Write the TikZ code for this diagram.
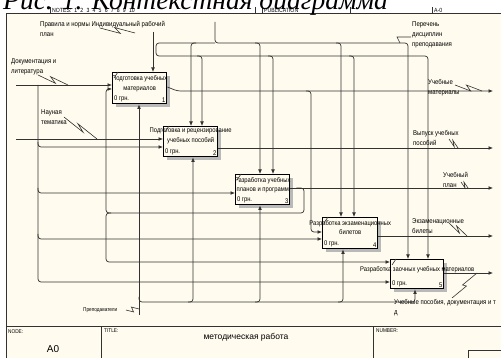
\documentclass[tikz,border=0pt]{standalone}
\usepackage{fontspec}
\setmainfont{Liberation Sans}
\newfontfamily\idf[FakeStretch=0.86]{Liberation Sans}
\newfontfamily\rmttl{Liberation Serif}
\usetikzlibrary{positioning}
\usetikzlibrary{calc,arrows.meta,shadows}

\definecolor{paper}{RGB}{255,251,238}
\definecolor{ink}{RGB}{50,50,50}

\tikzset{
  wire/.style={draw=ink, line width=0.7pt, rounded corners=3pt},
  arr/.style={wire, -{Latex[length=4.5pt,width=3.8pt]}},
  frame/.style={draw=ink, line width=1pt},
  box/.style={draw=black, line width=1.4pt, fill=paper,
              minimum width=54pt, minimum height=30pt, inner sep=0pt,
              anchor=north west,
              drop shadow={shadow xshift=3.5pt, shadow yshift=-3.5pt, opacity=1, fill=gray!55}},
  btxt/.style={font=\idf\fontsize{6.8}{9.5}\selectfont, align=center, inner sep=0pt, anchor=north},
  cost/.style={font=\idf\fontsize{6.8}{9}\selectfont, inner sep=1.8pt, anchor=south west},
  num/.style={font=\idf\fontsize{6.8}{9}\selectfont, inner sep=1.8pt, anchor=south east},
  lbl/.style={font=\idf\fontsize{7}{10}\selectfont, align=left, inner sep=0pt, anchor=north west},
  hdr/.style={font=\idf\fontsize{6}{7}\selectfont, inner sep=0pt, anchor=base west},
  squig/.style={draw=ink, line width=0.6pt},
}
\newcommand\zig[2]{\draw[squig] (#1) -- ($(#1)!0.58!(#2)+(0,2.5)$) -- ($(#1)!0.42!(#2)+(0,-2.5)$) -- (#2);}

\begin{document}
\begin{tikzpicture}[x=1pt,y=-1pt]

        \useasboundingbox (0,0) rectangle (501,358);
        \fill[white] (0,0) rectangle (501,358);
        \fill[paper] (6.5,14) rectangle (501,358);

        % frame
        \draw[frame] (6.5,358) -- (6.5,14) -- (501,14);
        \draw[frame] (6.5,326) -- (501,326);
        \draw[frame] (101,326) -- (101,358);
        \draw[frame] (373,326) -- (373,358);
        \draw[frame] (468,358) |- (501,350);
        \foreach \x in {50,255,262,350,432}
            \draw[frame, line width=0.7pt] (\x,7) -- (\x,14);

        \node[hdr] (notes) at (52,12.5) {NOTES:\hspace{3pt}1\hspace{3.2pt}2\hspace{3.2pt}3\hspace{3.2pt}4\hspace{3.2pt}5\hspace{3.2pt}6\hspace{3.2pt}7\hspace{3.2pt}8\hspace{3.2pt}9\hspace{3.2pt}10};
        \node[hdr] (publ) at (264,12.5) {PUBLICATION};
        \node[hdr] (anum) at (434,12.5) {A-0};
        \node[anchor=base west, inner sep=0pt, font=\rmttl\itshape\fontsize{27.5}{28}\selectfont] (title) at (3,10) {Рис. 1. Контекстная диаграмма};

        \node[hdr, anchor=north west, font=\idf\fontsize{5.5}{6}\selectfont] (fnode) at (8,329) {NODE:};
        \node[hdr, anchor=north west, font=\idf\fontsize{5.5}{6}\selectfont] (ftitle) at (104,329) {TITLE:};
        \node[hdr, anchor=north west, font=\idf\fontsize{5.5}{6}\selectfont] (fnum) at (376,329) {NUMBER:};
        \node[inner sep=0pt, font=\fontsize{10}{10}\selectfont] (fa0) at (53,349) {A0};
        \node[inner sep=0pt, font=\fontsize{8.5}{9}\selectfont] (fname) at (246,337) {методическая работа};

        % activity boxes
        \node[box, minimum height=31pt] (b1) at (112,72) {};
        \node[box] (b2) at (163,126) {};
        \node[box] (b3) at (235,174) {};
        \node[box, minimum width=55pt, minimum height=31pt] (b4) at (322,217) {};
        \node[box, minimum width=53pt, minimum height=29pt] (b5) at (390,259) {};

        \node[btxt] (t1) at ($(b1.north)+(0,3.5)$) {Подготовка учебных\\материалов};
        \node[btxt] (t2) at ($(b2.north)+(0,2)$) {Подготовка и рецензирование\\учебных пособий};
        \node[btxt] (t3) at ($(b3.north)+(0,3)$) {Разработка учебных\\планов и программ};
        \node[btxt] (t4) at ($(b4.north)+(0,3)$) {Разработка экзаменационных\\билетов};
        \node[btxt] (t5) at ($(b5.north)+(0,7)$) {Разработка заочных учебных материалов};

        \foreach \b/\k in {b1/1,b2/2,b3/3,b4/4,b5/5}{
            \node[cost] (\b cost) at (\b.south west) {0 грн.};
            \node[num] (\b num) at (\b.south east) {\k};
            \draw[ink, line width=0.6pt] ($(\b.north west)+(2,6)$) -- ++(4,-6);
        }

        % ports
        \coordinate (b1i1) at ($(b1.north west)+(0,13)$);
        \coordinate (b1i2) at ($(b1.north west)+(0,17)$);
        \coordinate (b1c)  at ($(b1.north west)+(41,0)$);
        \coordinate (b1m)  at ($(b1.south west)+(27,0)$);
        \coordinate (b1o)  at ($(b1.north east)+(0,15)$);
        \coordinate (b2i1) at ($(b2.north west)+(0,13)$);
        \coordinate (b2i2) at ($(b2.north west)+(0,21)$);
        \coordinate (b2c1) at ($(b2.north west)+(28,0)$);
        \coordinate (b2c2) at ($(b2.north west)+(39,0)$);
        \coordinate (b2m)  at ($(b2.south west)+(30,0)$);
        \coordinate (b2o)  at ($(b2.north east)+(0,22)$);
        \coordinate (b3i)  at ($(b3.north west)+(0,19)$);
        \coordinate (b3c1) at ($(b3.north west)+(25,0)$);
        \coordinate (b3c2) at ($(b3.north west)+(38,0)$);
        \coordinate (b3m)  at ($(b3.south west)+(25,0)$);
        \coordinate (b3o)  at ($(b3.north east)+(0,14)$);
        \coordinate (b4i1) at ($(b4.north west)+(0,15)$);
        \coordinate (b4i2) at ($(b4.north west)+(0,22)$);
        \coordinate (b4c1) at ($(b4.north west)+(19,0)$);
        \coordinate (b4c2) at ($(b4.north west)+(32,0)$);
        \coordinate (b4m)  at ($(b4.south west)+(21,0)$);
        \coordinate (b4o)  at ($(b4.north east)+(0,19)$);
        \coordinate (b5i1) at ($(b5.north west)+(0,3)$);
        \coordinate (b5i2) at ($(b5.north west)+(0,23)$);
        \coordinate (b5c1) at ($(b5.north west)+(18,0)$);
        \coordinate (b5c2) at ($(b5.north west)+(38,0)$);
        \coordinate (b5m)  at ($(b5.south west)+(25,0)$);
        \coordinate (b5o)  at ($(b5.north east)+(0,14)$);

        \coordinate (inDoc) at (16,85);
        \coordinate (jDoc) at (38,85);
        \coordinate (inSci) at (16,139);
        \coordinate (cRul) at (153,32);
        \coordinate (cPlan) at (215,22);
        \coordinate (cJ) at (215,43);
        \coordinate (cK) at (156,56);
        \coordinate (mSrc) at (139,315);
        \coordinate (mJ) at (139,302);
        \coordinate (jMat) at (311,91);
        \coordinate (fbR) at (304,213);
        \coordinate (fbL) at (106,213);
        \coordinate (oMat) at (493,91);
        \coordinate (oPub) at (493,148);
        \coordinate (oPlan) at (493,188);
        \coordinate (oExam) at (493,236);
        \coordinate (oZ) at (493,273);

        % inputs
        \draw[arr] (inDoc) -- (b1i1);
        \draw[arr] (inSci) -- (b2i1);
        \draw[arr] (jDoc) -- (jDoc |- b5i2) -- (b5i2);
        \foreach \p in {b2i2,b3i,b4i2}
            \draw[arr] ($(jDoc |- \p)+(0,-5)$) -- (jDoc |- \p) -- (\p);

        % controls
        \draw[arr] (cRul) -- (b1c);
        \draw[arr] (cPlan) -- (cJ) -- (cJ -| b5c1) -- (b5c1);
        \draw[arr] (cJ) -- (cJ -| cK) -- (cK) -- (cK -| b5c2) -- (b5c2);
        \draw[arr] ($(cJ -| b2c1)+(5,0)$) -- (cJ -| b2c1) -- (b2c1);
        \foreach \p in {b3c1,b4c1}
            \draw[arr] ($(cJ -| \p)+(-5,0)$) -- (cJ -| \p) -- (\p);
        \foreach \p in {b2c2,b3c2,b4c2}
            \draw[arr] ($(cK -| \p)+(-5,0)$) -- (cK -| \p) -- (\p);

        % mechanisms
        \draw[arr] (mSrc) -- (b1m);
        \draw[arr] ($(mJ)+(0,-5)$) -- (mJ) -- (mJ -| b5m) -- (b5m);
        \foreach \p in {b2m,b3m,b4m}
            \draw[arr] ($(mJ -| \p)+(-5,0)$) -- (mJ -| \p) -- (\p);

        % outputs
        \draw[arr] (b1o) -- ++(10,4) -- (oMat);
        \draw[arr] ($(jMat)+(-5,0)$) -- (jMat) -- (jMat |- b4i1) -- (b4i1);
        \draw[arr] (b2o) -- (oPub);
        \draw[arr] (b3o) -- (oPlan);
        \draw[arr] ($(b3o)+(6,0)$) -- (b3o -| fbR) -- (fbR) -- (fbL) -- (fbL |- b1i2) -- (b1i2);
        \draw[arr] ($(fbL)+(5,0)$) -- (fbL) -- (fbL |- b5i1) -- (b5i1);
        \draw[arr] (b4o) -- (oExam);
        \draw[arr] (b5o) -- (oZ);

        % arrow labels
        \node[lbl] (lRul) at (40,21) {Правила и нормы Индивидуальный рабочий\\план};
        \node[lbl] (lDoc) at (11,58) {Документация и\\литература};
        \node[lbl] (lSci) at (41,109) {Науная\\тематика};
        \node[lbl] (lList) at (412,21) {Перечень\\дисциплин\\преподавания};
        \node[lbl] (lMat) at (428,79) {Учебные\\материалы};
        \node[lbl] (lPub) at (413,130) {Выпуск учебных\\пособий};
        \node[lbl] (lPlan) at (443,172) {Учебный\\план};
        \node[lbl] (lExam) at (412,218) {Экзаменационные\\билеты};
        \node[lbl] (lZ) at (394,299) {Учебные пособия, документация и т\\д};
        \node[lbl, anchor=west, font=\idf\fontsize{5.5}{6}\selectfont] (lTch) at (83,310) {Преподаватели};

        \zig{100,28}{135,33}
        \zig{38,75}{68,85}
        \zig{64,117}{97,139}
        \draw[squig] (411,37) -- (397,37) -- (400,43);
        \zig{455,85}{482,91}
        \zig{449,139}{458,148}
        \zig{461,182}{468,188}
        \zig{449,223}{467,236}
        \zig{452,298}{477,273}
        \zig{126,310}{139,309}

\end{tikzpicture}
\end{document}
